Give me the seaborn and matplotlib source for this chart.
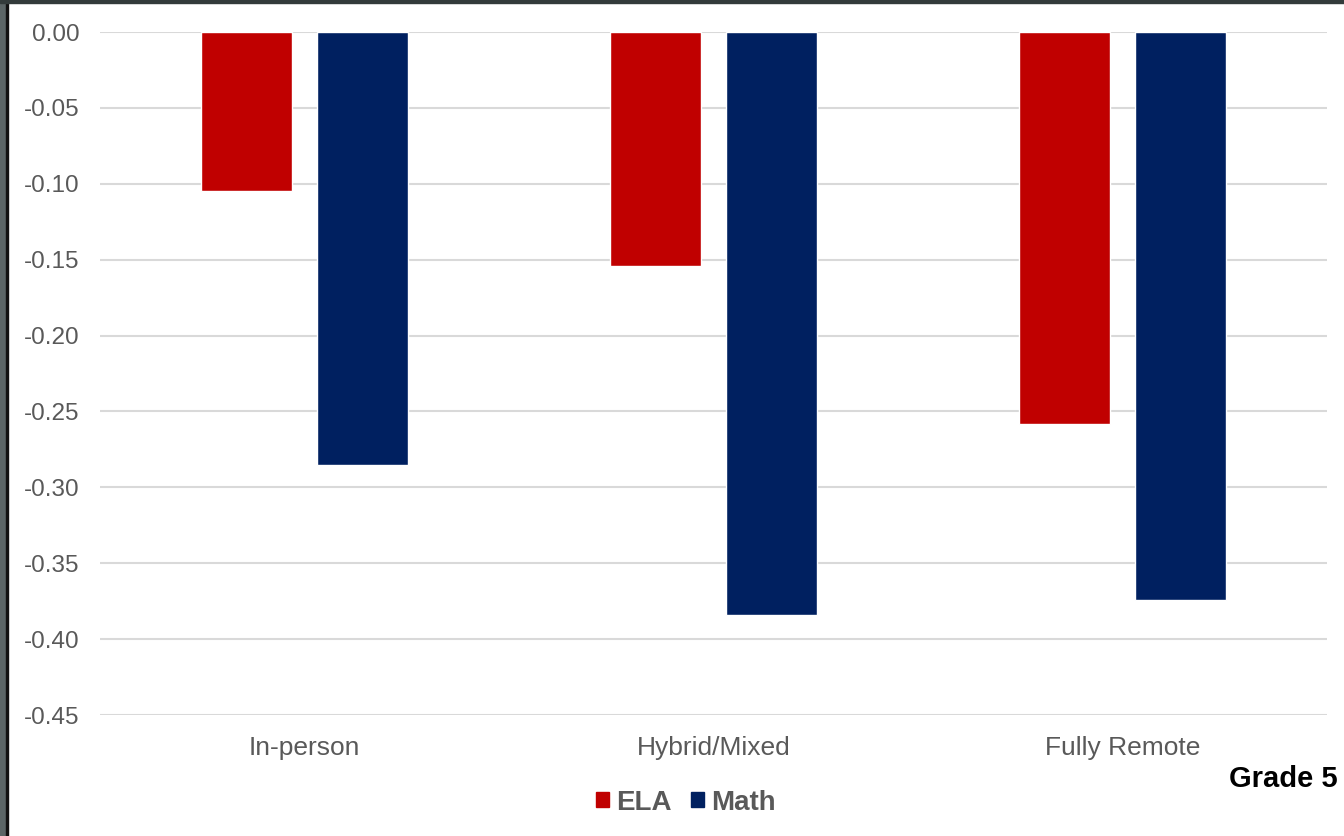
import matplotlib.pyplot as plt
import matplotlib.patches as mpatches
import pandas as pd
import seaborn as sns

categories = ["In-person", "Hybrid/Mixed", "Fully Remote"]
ela = [-0.105, -0.154, -0.258]
math = [-0.285, -0.384, -0.374]
subjects = ["ELA", "Math"]
colors = {"ELA": "#C00000", "Math": "#002060"}

df = pd.DataFrame({
    "mode": categories * 2,
    "subject": ["ELA"] * 3 + ["Math"] * 3,
    "value": ela + math,
})

sns.set_style("white")
plt.rcParams["font.family"] = ["Liberation Sans", "DejaVu Sans"]

fig = plt.figure(figsize=(13.44, 8.36), dpi=100)
ax = fig.add_axes([0.0744, 0.1447, 0.913, 0.8170])

sns.barplot(data=df, x="mode", y="value", hue="subject", order=categories,
            hue_order=subjects, palette=colors, width=0.564, gap=0.21,
            saturation=1, legend=False, ax=ax, zorder=3)

ax.set_ylim(-0.45, 0)
ax.set_yticks([-0.05 * i for i in range(10)])
ax.set_yticklabels([f"{-0.05 * i:.2f}" if i else "0.00" for i in range(10)])
ax.set_xlim(-0.5, 2.5)
ax.set_xlabel("")
ax.set_ylabel("")
ax.grid(axis="y", color="#d9d9d9", linewidth=1.5, zorder=0)
ax.set_axisbelow(True)
for s in ax.spines.values():
    s.set_visible(False)
ax.tick_params(axis="both", length=0, labelcolor="#595959")
ax.tick_params(axis="y", pad=15, labelsize=17.5)
ax.tick_params(axis="x", pad=15, labelsize=19)

handles = [mpatches.Patch(color=colors[s], label=s) for s in subjects]
leg = fig.legend(handles=handles, loc="center", bbox_to_anchor=(0.5104, 0.04),
                 ncol=2, frameon=False, handlelength=0.47, handleheight=0.47,
                 handletextpad=0.25, columnspacing=0.72,
                 prop={"size": 20, "weight": "bold"})
for t in leg.get_texts():
    t.set_color("#595959")

fig.text(0.995, 0.068, "Grade 5", ha="right", va="center", fontsize=21,
         fontweight="bold", color="black")

# frame on left and top edges
fig.patches.append(mpatches.Rectangle((0, 0), 6 / 1344, 1, transform=fig.transFigure,
                                      color="#5b6566", zorder=10))
fig.patches.append(mpatches.Rectangle((6 / 1344, 0), 2 / 1344, 1, transform=fig.transFigure,
                                      color="#111111", zorder=10))
fig.patches.append(mpatches.Rectangle((0, 1 - 3 / 836), 1, 3 / 836, transform=fig.transFigure,
                                      color="#333b3b", zorder=10))

fig.savefig("out.png", dpi=100)
